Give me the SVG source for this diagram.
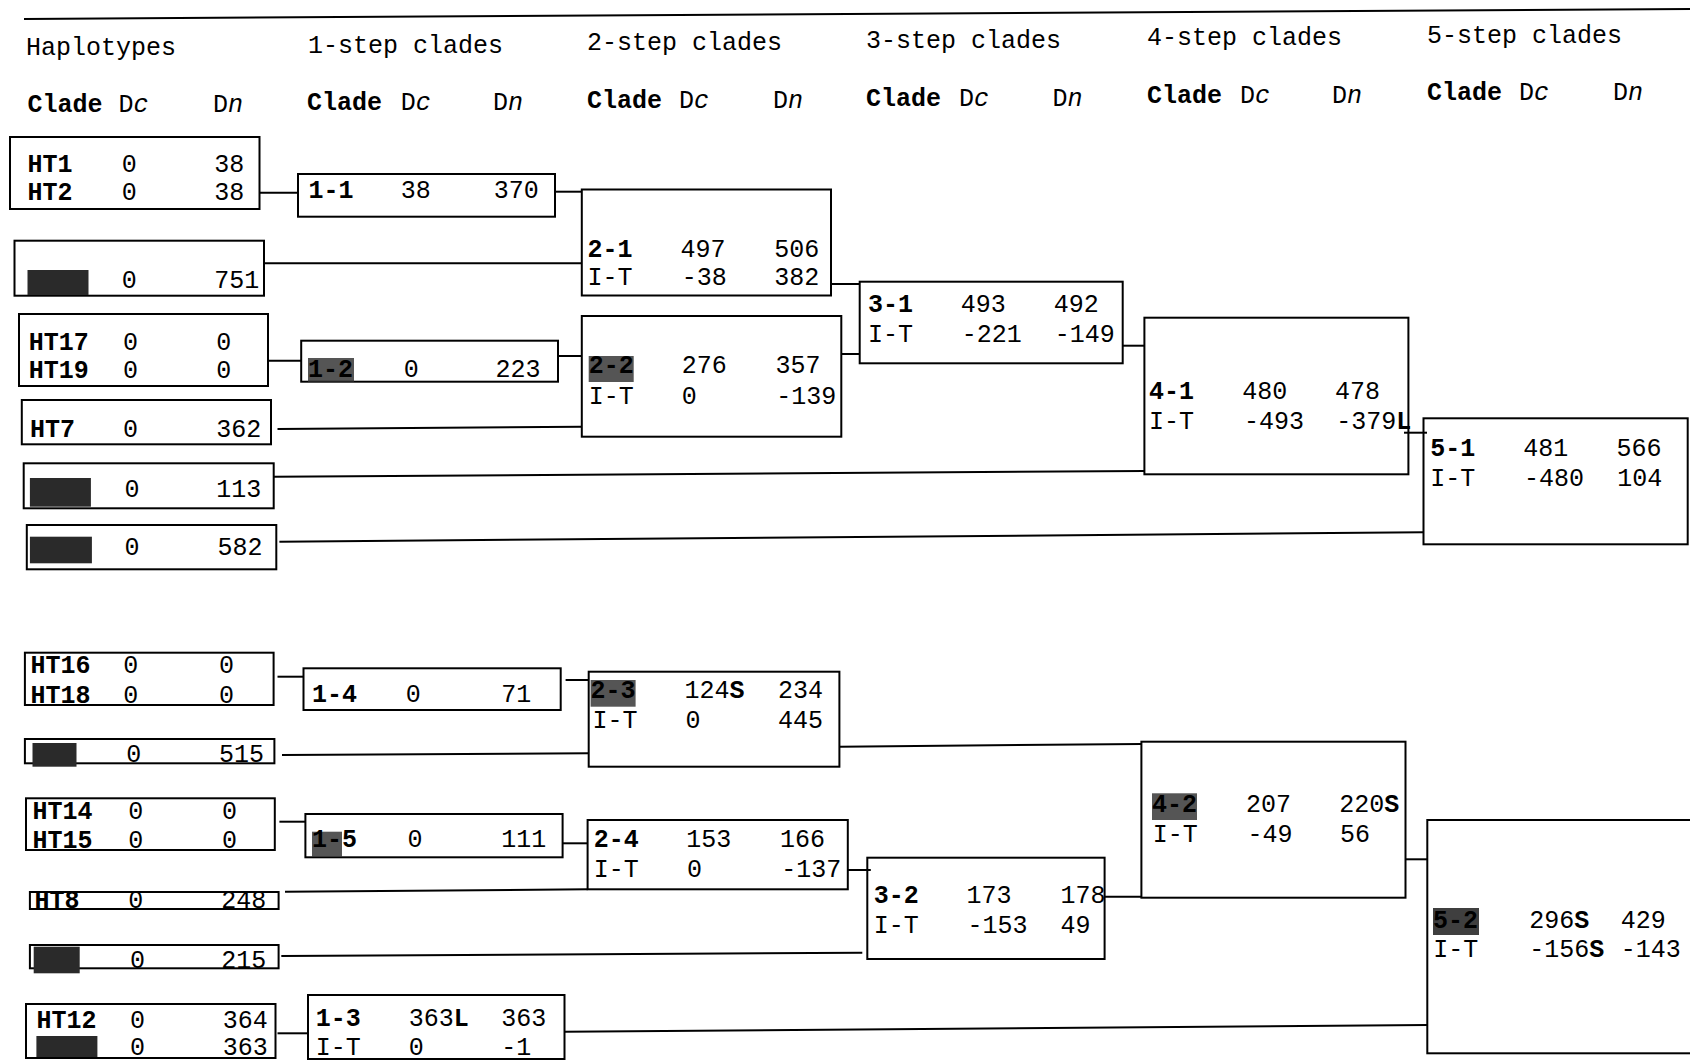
<svg xmlns="http://www.w3.org/2000/svg" width="1690" height="1062" viewBox="0 0 1690 1062">
<style>
text{font-family:"Liberation Mono","Courier New",monospace;font-size:25px;fill:#000}
.b{font-weight:bold}
.i{font-style:italic}
.box{fill:none;stroke:#000;stroke-width:2}
.ln{fill:none;stroke:#000;stroke-width:2}
.blk{fill:#2a2a2a}
</style>
<rect width="1690" height="1062" fill="#fff"/>
<g id="headers">
<line class="ln" x1="24" y1="19" x2="1690" y2="9"/>
<text x="26" y="55">Haplotypes</text>
<text x="308" y="53">1-step clades</text>
<text x="587" y="50">2-step clades</text>
<text x="866" y="48">3-step clades</text>
<text x="1147" y="45">4-step clades</text>
<text x="1427" y="43">5-step clades</text>
<text y="112"><tspan x="27.5" class="b">Clade</tspan><tspan x="118.6">D</tspan><tspan class="i">c</tspan><tspan x="213">D</tspan><tspan class="i">n</tspan></text>
<text y="110"><tspan x="307" class="b">Clade</tspan><tspan x="400.7">D</tspan><tspan class="i">c</tspan><tspan x="493">D</tspan><tspan class="i">n</tspan></text>
<text y="108"><tspan x="587" class="b">Clade</tspan><tspan x="679">D</tspan><tspan class="i">c</tspan><tspan x="773">D</tspan><tspan class="i">n</tspan></text>
<text y="106"><tspan x="866" class="b">Clade</tspan><tspan x="959">D</tspan><tspan class="i">c</tspan><tspan x="1052.5">D</tspan><tspan class="i">n</tspan></text>
<text y="103"><tspan x="1147" class="b">Clade</tspan><tspan x="1240">D</tspan><tspan class="i">c</tspan><tspan x="1332">D</tspan><tspan class="i">n</tspan></text>
<text y="100"><tspan x="1427" class="b">Clade</tspan><tspan x="1519">D</tspan><tspan class="i">c</tspan><tspan x="1613">D</tspan><tspan class="i">n</tspan></text>
</g>
<g id="connectors">
<line class="ln" x1="259.5" y1="192.7" x2="297.7" y2="192.7"/>
<line class="ln" x1="555" y1="191.7" x2="581.8" y2="191.7"/>
<line class="ln" x1="264" y1="263.3" x2="581.8" y2="263.3"/>
<line class="ln" x1="268" y1="360.7" x2="301.2" y2="360.7"/>
<line class="ln" x1="558" y1="356" x2="581.8" y2="356"/>
<line class="ln" x1="277.5" y1="429" x2="581.8" y2="426.7"/>
<line class="ln" x1="831" y1="284" x2="859.7" y2="284"/>
<line class="ln" x1="841.3" y1="354" x2="859.7" y2="354"/>
<line class="ln" x1="1122.6" y1="345.7" x2="1144.4" y2="345.7"/>
<line class="ln" x1="273.6" y1="476.7" x2="1144.4" y2="471"/>
<line class="ln" x1="279.4" y1="541.7" x2="1423.5" y2="532.3"/>
<line class="ln" x1="1404" y1="432.7" x2="1427" y2="432.7"/>
<line class="ln" x1="277.5" y1="676.7" x2="303.5" y2="676.7"/>
<line class="ln" x1="565.6" y1="680" x2="588.7" y2="680"/>
<line class="ln" x1="282" y1="755" x2="588.7" y2="753.3"/>
<line class="ln" x1="279.4" y1="821.7" x2="305.4" y2="821.7"/>
<line class="ln" x1="562.6" y1="843.3" x2="587.6" y2="843.3"/>
<line class="ln" x1="285" y1="891.7" x2="587.6" y2="889.3"/>
<line class="ln" x1="839.4" y1="746.7" x2="1141.4" y2="744"/>
<line class="ln" x1="847.8" y1="870" x2="870.8" y2="870"/>
<line class="ln" x1="281.3" y1="956" x2="862.3" y2="952.7"/>
<line class="ln" x1="1104.6" y1="896.7" x2="1141.4" y2="896.7"/>
<line class="ln" x1="1405.5" y1="859.3" x2="1427.3" y2="859.3"/>
<line class="ln" x1="277.5" y1="1033.3" x2="308" y2="1033.3"/>
<line class="ln" x1="564.5" y1="1031.7" x2="1427.3" y2="1025"/>
</g>
<g id="ht1-ht2">
<rect class="box" x="10" y="137" width="249.5" height="72"/>
<text y="171.7"><tspan x="27.5" class="b">HT1</tspan><tspan x="121.7">0</tspan><tspan x="214.3">38</tspan></text>
<text y="200"><tspan x="27.5" class="b">HT2</tspan><tspan x="121.7">0</tspan><tspan x="214.3">38</tspan></text>
</g>
<g id="clade-1-1">
<rect class="box" x="298" y="174" width="257" height="42.7"/>
<text y="198.3"><tspan x="308.5" class="b">1-1</tspan><tspan x="400.7">38</tspan><tspan x="493.7">370</tspan></text>
</g>
<g id="ht-751">
<rect class="box" x="14.5" y="240.7" width="249.5" height="55"/>
<rect class="blk" x="27.5" y="270" width="61" height="25"/>
<text y="288.3"><tspan x="121.7">0</tspan><tspan x="214.3">751</tspan></text>
</g>
<g id="clade-2-1">
<rect class="box" x="581.8" y="189.5" width="249.2" height="106"/>
<text y="256.7"><tspan x="587.6" class="b">2-1</tspan><tspan x="680.5">497</tspan><tspan x="774.3">506</tspan></text>
<text y="285"><tspan x="587.6">I-T</tspan><tspan x="681.7">-38</tspan><tspan x="774.3">382</tspan></text>
</g>
<g id="ht17-ht19">
<rect class="box" x="19" y="314" width="249" height="72"/>
<text y="350"><tspan x="28.7" class="b">HT17</tspan><tspan x="123">0</tspan><tspan x="216.2">0</tspan></text>
<text y="378.3"><tspan x="28.7" class="b">HT19</tspan><tspan x="123">0</tspan><tspan x="216.2">0</tspan></text>
</g>
<g id="clade-1-2">
<rect class="box" x="301.2" y="340.7" width="256.8" height="41"/>
<rect class="blk" x="308" y="358" width="46" height="24" opacity="0.8"/>
<text y="376.7"><tspan x="308" class="b">1-2</tspan><tspan x="403.7">0</tspan><tspan x="495.6">223</tspan></text>
</g>
<g id="ht7">
<rect class="box" x="21.8" y="400" width="249.2" height="44.3"/>
<text y="437.3"><tspan x="29.9" class="b">HT7</tspan><tspan x="123">0</tspan><tspan x="216.2">362</tspan></text>
</g>
<g id="clade-2-2">
<rect class="box" x="581.8" y="316" width="259.5" height="120.7"/>
<rect class="blk" x="588.7" y="356" width="45" height="26" opacity="0.8"/>
<text y="373.3"><tspan x="588.7" class="b">2-2</tspan><tspan x="681.7">276</tspan><tspan x="775.5">357</tspan></text>
<text y="404"><tspan x="588.7">I-T</tspan><tspan x="681.7">0</tspan><tspan x="776.2">-139</tspan></text>
</g>
<g id="clade-3-1">
<rect class="box" x="859.7" y="281.7" width="263" height="81.6"/>
<text y="311.7"><tspan x="868" class="b">3-1</tspan><tspan x="960.7">493</tspan><tspan x="1053.7">492</tspan></text>
<text y="341.7"><tspan x="868">I-T</tspan><tspan x="961.8">-221</tspan><tspan x="1054.8">-149</tspan></text>
</g>
<g id="ht-113">
<rect class="box" x="23.7" y="463.3" width="250" height="45"/>
<rect class="blk" x="29.9" y="478" width="61" height="28.7"/>
<text y="496.7"><tspan x="124.4">0</tspan><tspan x="216.2">113</tspan></text>
</g>
<g id="ht-582">
<rect class="box" x="26.8" y="525" width="249.5" height="44.3"/>
<rect class="blk" x="29.9" y="536.7" width="62" height="26.6"/>
<text y="555"><tspan x="124.4">0</tspan><tspan x="217.4">582</tspan></text>
</g>
<g id="clade-4-1">
<rect class="box" x="1144.4" y="317.7" width="264" height="156.6"/>
<text y="399"><tspan x="1149" class="b">4-1</tspan><tspan x="1242.2">480</tspan><tspan x="1335">478</tspan></text>
<text y="429"><tspan x="1149">I-T</tspan><tspan x="1244">-493</tspan><tspan x="1336.3">-379</tspan><tspan class="b">L</tspan></text>
</g>
<g id="clade-5-1">
<rect class="box" x="1423.5" y="418.3" width="264.2" height="126"/>
<text y="456"><tspan x="1430.3" class="b">5-1</tspan><tspan x="1523.3">481</tspan><tspan x="1616.6">566</tspan></text>
<text y="485.7"><tspan x="1430.3">I-T</tspan><tspan x="1524">-480</tspan><tspan x="1617.3">104</tspan></text>
</g>
<g id="ht16-ht18">
<rect class="box" x="24.9" y="652.7" width="248.7" height="52.3"/>
<text y="673.3"><tspan x="30.6" class="b">HT16</tspan><tspan x="123.2">0</tspan><tspan x="219">0</tspan></text>
<text y="703"><tspan x="30.6" class="b">HT18</tspan><tspan x="123.2">0</tspan><tspan x="219">0</tspan></text>
</g>
<g id="clade-1-4">
<rect class="box" x="303.5" y="668.3" width="257.2" height="41.7"/>
<text y="701.7"><tspan x="312" class="b">1-4</tspan><tspan x="405.7">0</tspan><tspan x="501.3">71</tspan></text>
</g>
<g id="ht-515">
<rect class="box" x="24.9" y="739" width="249.5" height="24.3"/>
<rect class="blk" x="32.5" y="743" width="44" height="23.7"/>
<text y="761.7"><tspan x="126.3">0</tspan><tspan x="219">515</tspan></text>
</g>
<g id="clade-2-3">
<rect class="box" x="588.7" y="671.7" width="250.7" height="95"/>
<rect class="blk" x="590.6" y="680" width="45" height="26.7" opacity="0.8"/>
<text y="698.3"><tspan x="590.6" class="b">2-3</tspan><tspan x="684.4">124</tspan><tspan class="b">S</tspan><tspan x="778.1">234</tspan></text>
<text y="728.3"><tspan x="592.5">I-T</tspan><tspan x="685.5">0</tspan><tspan x="778">445</tspan></text>
</g>
<g id="ht14-ht15">
<rect class="box" x="26" y="798.3" width="248.8" height="51.7"/>
<text y="819.3"><tspan x="32.5" class="b">HT14</tspan><tspan x="128.2">0</tspan><tspan x="222">0</tspan></text>
<text y="848.3"><tspan x="32.5" class="b">HT15</tspan><tspan x="128.2">0</tspan><tspan x="222">0</tspan></text>
</g>
<g id="clade-1-5">
<rect class="box" x="305.4" y="814" width="257.2" height="43.3"/>
<rect class="blk" x="312" y="831.7" width="30" height="25" opacity="0.8"/>
<text y="846.7"><tspan x="312" class="b">1-5</tspan><tspan x="407.6">0</tspan><tspan x="501.3">111</tspan></text>
</g>
<g id="ht8">
<rect class="box" x="29.9" y="892" width="248.7" height="17"/>
<text y="908"><tspan x="34.4" class="b">HT8</tspan><tspan x="128.2">0</tspan><tspan x="221.2">248</tspan></text>
</g>
<g id="clade-2-4">
<rect class="box" x="587.6" y="820" width="260.2" height="69.3"/>
<text y="846.7"><tspan x="593.7" class="b">2-4</tspan><tspan x="686.3">153</tspan><tspan x="780">166</tspan></text>
<text y="876.7"><tspan x="593.7">I-T</tspan><tspan x="687">0</tspan><tspan x="781.2">-137</tspan></text>
</g>
<g id="ht-215">
<rect class="box" x="29.9" y="945" width="248.7" height="23.3"/>
<rect class="blk" x="33.7" y="946.7" width="46" height="26.6"/>
<text y="968.3"><tspan x="130">0</tspan><tspan x="221.2">215</tspan></text>
</g>
<g id="clade-3-2">
<rect class="box" x="867.3" y="857.7" width="237.3" height="101.3"/>
<text y="903.3"><tspan x="873.8" class="b">3-2</tspan><tspan x="966.4">173</tspan><tspan x="1060.6">178</tspan></text>
<text y="933.3"><tspan x="873.8">I-T</tspan><tspan x="967.6">-153</tspan><tspan x="1060.6">49</tspan></text>
</g>
<g id="clade-4-2">
<rect class="box" x="1141.4" y="741.7" width="264.1" height="156"/>
<rect class="blk" x="1152" y="793.3" width="45" height="26.7" opacity="0.8"/>
<text y="811.7"><tspan x="1152" class="b">4-2</tspan><tspan x="1246">207</tspan><tspan x="1339.3">220</tspan><tspan class="b">S</tspan></text>
<text y="841.7"><tspan x="1152.7">I-T</tspan><tspan x="1247.5">-49</tspan><tspan x="1340">56</tspan></text>
</g>
<g id="ht12-group">
<rect class="box" x="26" y="1004" width="249.5" height="54"/>
<text y="1027.5"><tspan x="36.4" class="b">HT12</tspan><tspan x="130">0</tspan><tspan x="222.7">364</tspan></text>
<rect class="blk" x="36.4" y="1036" width="61" height="21"/>
<text y="1055"><tspan x="130">0</tspan><tspan x="222.7">363</tspan></text>
</g>
<g id="clade-1-3">
<rect class="box" x="308" y="995" width="256.5" height="64"/>
<text y="1026"><tspan x="315.7" class="b">1-3</tspan><tspan x="408.7">363</tspan><tspan class="b">L</tspan><tspan x="501.3">363</tspan></text>
<text y="1055"><tspan x="315.7">I-T</tspan><tspan x="408.7">0</tspan><tspan x="501.3">-1</tspan></text>
</g>
<g id="clade-5-2">
<rect class="box" x="1427.3" y="820" width="280" height="233.3"/>
<rect class="blk" x="1433" y="908" width="46" height="27" opacity="0.9"/>
<text y="928.3"><tspan x="1433" class="b">5-2</tspan><tspan x="1529.3">296</tspan><tspan class="b">S</tspan><tspan x="1620.7">429</tspan></text>
<text y="956.7"><tspan x="1433.3">I-T</tspan><tspan x="1529.3">-156</tspan><tspan class="b">S</tspan><tspan x="1620.7">-143</tspan></text>
</g>
</svg>
